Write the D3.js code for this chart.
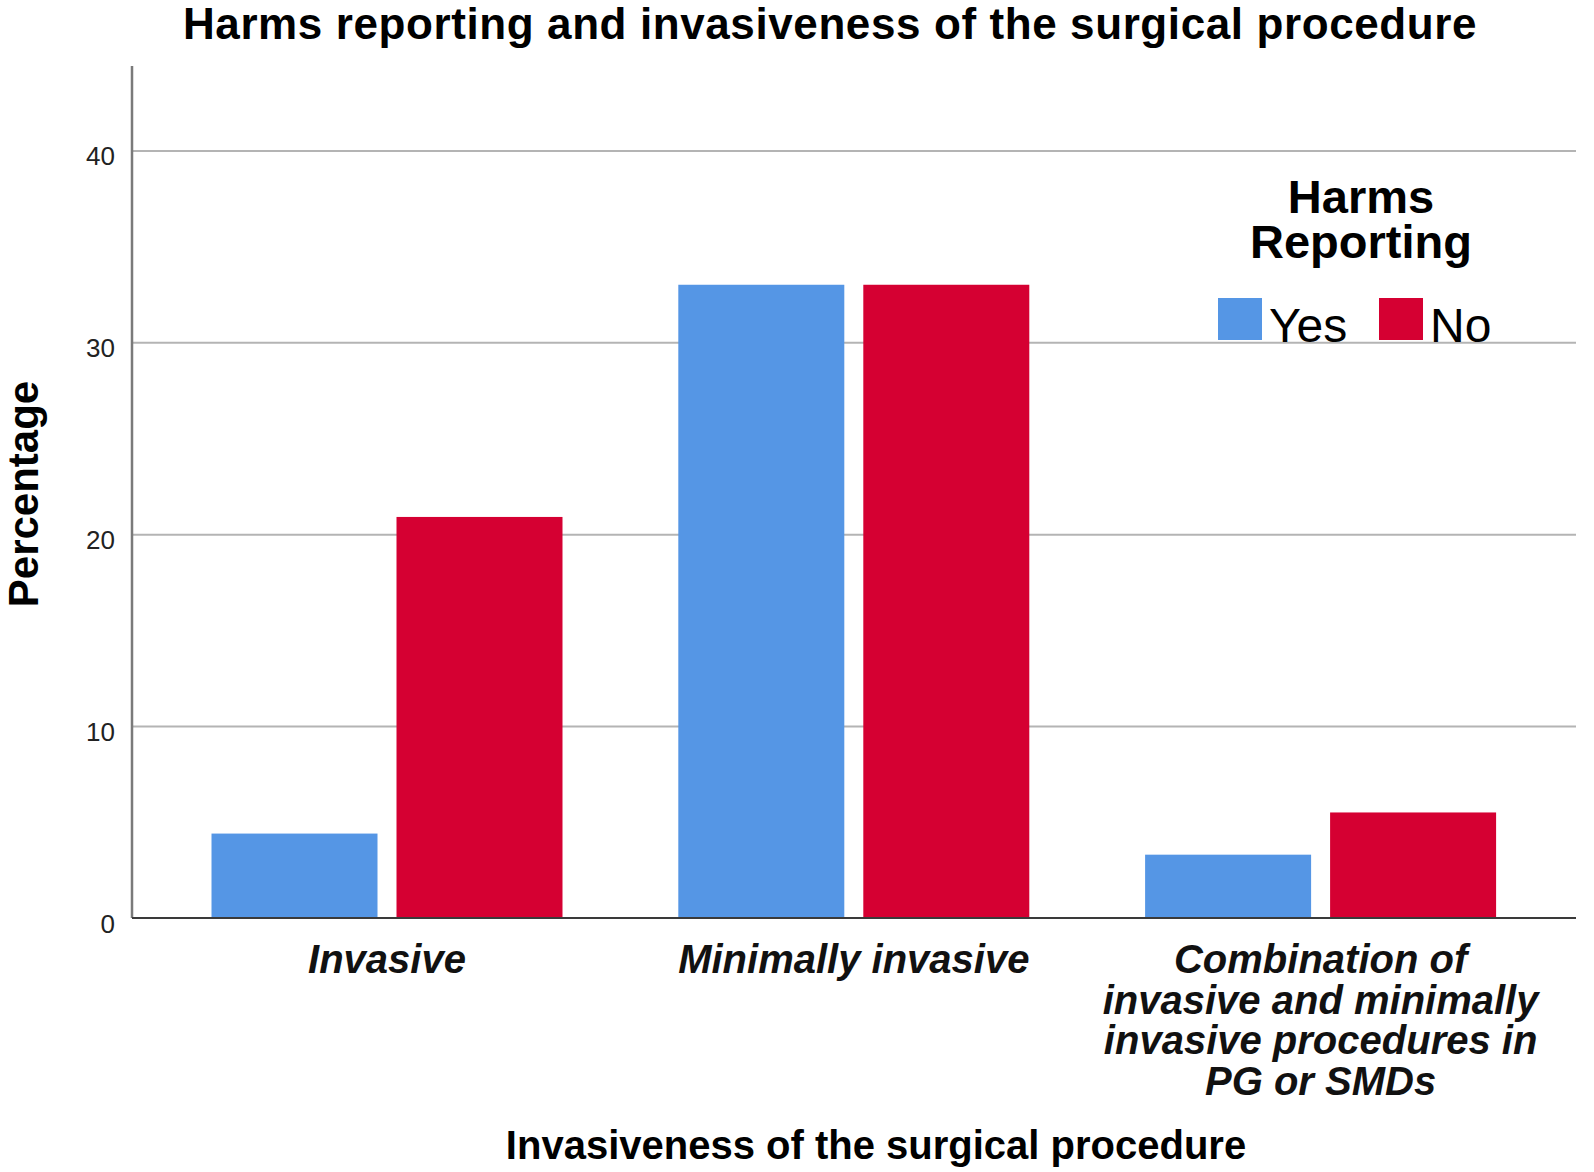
<!DOCTYPE html>
<html>
<head>
<meta charset="utf-8">
<script src="https://cdn.jsdelivr.net/npm/d3@7"></script>
<style>
  html, body { margin: 0; padding: 0; background: #fff; }
  svg { display: block; font-family: "Liberation Sans", Arial, sans-serif; }
</style>
</head>
<body>
<svg id="chart" width="1594" height="1172"></svg>
<script>
// ---- data ----
const categories = ["Invasive", "Minimally invasive", "Combination of invasive and minimally invasive procedures in PG or SMDs"];
const categoryLines = [
  ["Invasive"],
  ["Minimally invasive"],
  ["Combination of", "invasive and minimally", "invasive procedures in", "PG or SMDs"]
];
const seriesNames = ["Yes", "No"];
const yesValues = [4.4, 33.0, 3.3];
const noValues = [20.9, 33.0, 5.5];
const yTicks = [0, 10, 20, 30, 40];
const titleText = "Harms reporting and invasiveness of the surgical procedure";
const xTitle = "Invasiveness of the surgical procedure";
const yTitle = "Percentage";
const legendTitle = ["Harms", "Reporting"];
const colors = { Yes: "#5596e5", No: "#d50032" };

// ---- layout ----
const svg = d3.select("#chart");
const plotLeft = 132, plotRight = 1576, plotTop = 66, plotBottom = 918;

const x = d3.scaleBand().domain(categories).range([153.6, 1554]).padding(0);
const xSub = d3.scaleBand().domain(seriesNames).range([0, x.bandwidth()])
  .paddingInner(0.1027).paddingOuter(0.313);
const y = d3.scaleLinear().domain([0, 44.4]).range([plotBottom, plotTop]);

const rows = categories.map((c, i) => ({ cat: c, Yes: yesValues[i], No: noValues[i] }));

// gridlines via axis
const yAxis = d3.axisLeft(y).tickValues(yTicks.filter(t => t > 0)).tickSize(-(plotRight - plotLeft)).tickFormat(d3.format("d"));
const gy = svg.append("g").attr("transform", `translate(${plotLeft},0)`).call(yAxis);
gy.select(".domain").remove();
gy.selectAll(".tick line").attr("stroke", "#b4b4b4").attr("stroke-width", 2);
gy.selectAll(".tick text").remove();

// tick labels (including 0)
const yLab = d3.axisLeft(y).tickValues(yTicks).tickSize(0).tickPadding(17).tickFormat(d3.format("d"));
const gyl = svg.append("g").attr("transform", `translate(${plotLeft},0)`).call(yLab);
gyl.select(".domain").remove();
gyl.selectAll(".tick text")
  .attr("font-size", 26).attr("fill", "#222")
  .attr("font-family", "Liberation Sans, Arial, sans-serif")
  .attr("dy", null).attr("y", 14);

// bars
const groups = svg.append("g").selectAll("g").data(rows).join("g")
  .attr("transform", d => `translate(${x(d.cat)},0)`);
groups.selectAll("rect").data(d => seriesNames.map(s => ({ s, v: d[s] }))).join("rect")
  .attr("x", d => xSub(d.s))
  .attr("width", xSub.bandwidth())
  .attr("y", d => y(d.v))
  .attr("height", d => y(0) - y(d.v))
  .attr("fill", d => colors[d.s]);

// axis lines
svg.append("line").attr("x1", plotLeft).attr("x2", plotLeft).attr("y1", plotTop).attr("y2", plotBottom)
  .attr("stroke", "#7a7a7a").attr("stroke-width", 2.5);
const xAxis = d3.axisBottom(x).tickSize(0).tickFormat("");
const gx = svg.append("g").attr("transform", `translate(0,${plotBottom})`).call(xAxis);
gx.select(".domain").attr("d", `M${plotLeft},0H${plotRight}`).attr("stroke", "#3a3a3a").attr("stroke-width", 2.2);

// category labels
gx.selectAll(".tick text").each(function(d, i) {
  const t = d3.select(this);
  t.text(null).attr("y", 0).attr("dy", null)
    .attr("font-size", 40).attr("font-style", "italic").attr("font-weight", "bold")
    .attr("fill", "#111").attr("font-family", "Liberation Sans, Arial, sans-serif");
  categoryLines[i].forEach((line, k) => {
    t.append("tspan").attr("x", 0).attr("y", 55 + k * 40.6).text(line);
  });
});

// title
svg.append("text").attr("x", 830).attr("y", 39).attr("text-anchor", "middle")
  .attr("font-size", 44).attr("letter-spacing", 0.6).attr("font-weight", "bold").attr("fill", "#000").text(titleText);

// x title
svg.append("text").attr("x", 876).attr("y", 1159).attr("text-anchor", "middle")
  .attr("font-size", 40).attr("font-weight", "bold").attr("fill", "#000").text(xTitle);

// y title
svg.append("text").attr("transform", "translate(38,494) rotate(-90)").attr("text-anchor", "middle")
  .attr("font-size", 42).attr("font-weight", "bold").attr("fill", "#000").text(yTitle);

// legend
const lg = svg.append("g");
const lt = lg.append("text").attr("text-anchor", "middle")
  .attr("font-size", 47).attr("font-weight", "bold").attr("fill", "#000");
legendTitle.forEach((t, k) => {
  lt.append("tspan").attr("x", 1361).attr("y", 213 + k * 45).text(t);
});
const legendX = { Yes: 1218, No: 1379 };
seriesNames.forEach(s => {
  lg.append("rect").attr("x", legendX[s]).attr("y", 298).attr("width", 44).attr("height", 42).attr("fill", colors[s]);
  lg.append("text").attr("x", legendX[s] + 51).attr("y", 342).attr("font-size", 48).attr("fill", "#000").text(s);
});
</script>
</body>
</html>
